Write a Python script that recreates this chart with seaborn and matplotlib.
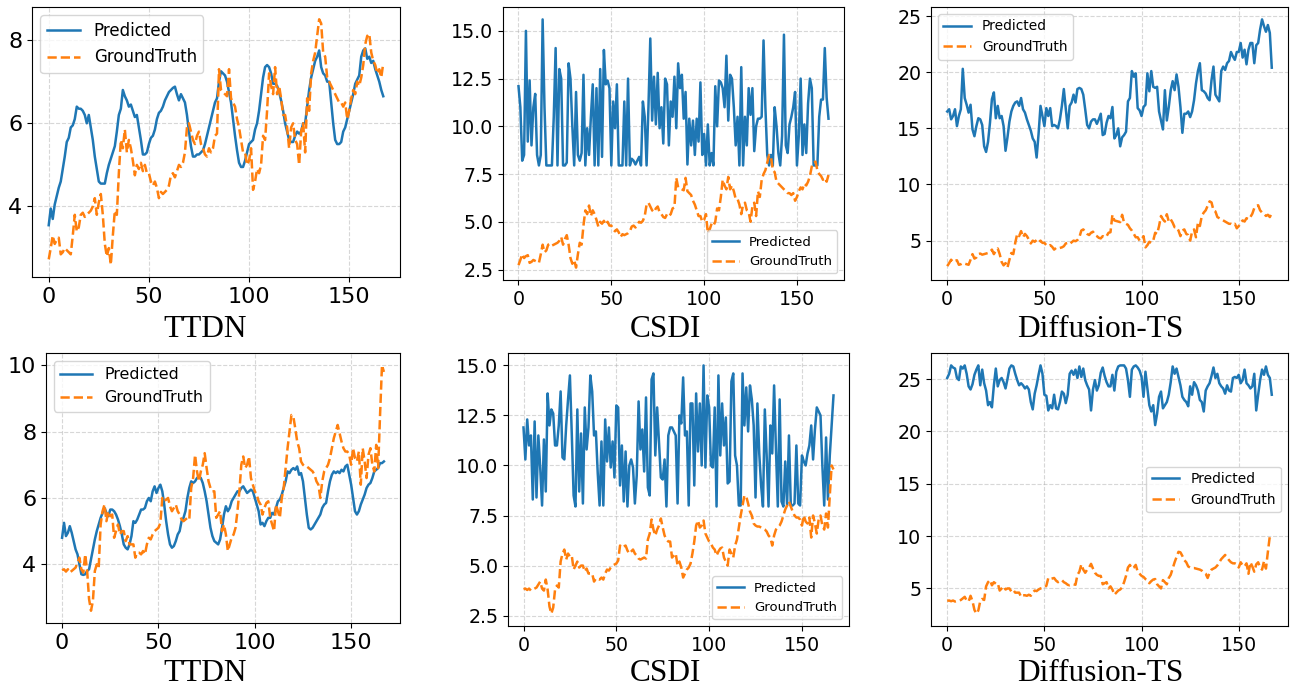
import numpy as np
import matplotlib
matplotlib.use("Agg")
import matplotlib.pyplot as plt
from matplotlib.ticker import MultipleLocator
import seaborn as sns

# ---------------- data ----------------
x_ticks = [0, 50, 100, 150]
model_names = ["TTDN", "CSDI", "Diffusion-TS"]

gt_top = [
    2.73, 3.0, 3.3, 3.1, 3.2, 3.25, 2.85, 2.9, 3.0, 2.95,
    2.9, 2.85, 3.3, 3.8, 3.4, 3.5, 3.8, 3.85, 3.75, 3.8,
    3.85, 3.9, 4.0, 4.2, 3.8, 4.1, 4.3, 3.8, 3.1, 2.8,
    3.0, 2.6, 3.3, 3.9, 3.8, 4.8, 5.6, 5.4, 5.85, 5.3,
    5.6, 5.4, 5.1, 4.75, 5.0, 4.9, 5.05, 4.85, 5.0, 4.8,
    4.8, 4.6, 4.5, 4.6, 4.45, 4.2, 4.35, 4.3, 4.35, 4.4,
    4.5, 4.75, 4.8, 4.7, 4.85, 5.0, 4.95, 5.05, 5.3, 5.9,
    6.0, 5.8, 5.6, 5.5, 5.7, 5.8, 5.5, 5.4, 5.25, 5.2,
    5.4, 5.3, 5.4, 5.7, 5.75, 7.3, 6.8, 6.75, 6.7, 6.65,
    7.3, 6.6, 6.5, 6.4, 6.1, 5.9, 5.6, 5.3, 5.3, 5.0,
    5.1, 5.4, 4.4, 4.6, 4.9, 4.8, 5.0, 5.7, 5.6, 6.3,
    7.2, 6.9, 6.7, 7.35, 6.7, 6.9, 6.6, 6.2, 6.2, 5.9,
    5.4, 5.9, 6.0, 5.6, 5.5, 5.0, 5.8, 6.0, 5.3, 6.6,
    6.3, 7.2, 7.5, 7.7, 8.1, 8.5, 8.4, 7.7, 7.6, 7.1,
    7.0, 6.9, 6.8, 6.7, 6.6, 6.5, 6.5, 6.4, 6.5, 6.1,
    6.3, 6.6, 6.8, 6.7, 7.0, 6.9, 7.1, 7.4, 7.9, 8.1,
    8.15, 7.7, 7.5, 7.4, 7.2, 7.3, 7.1, 7.45,
]

gt_bottom = [
    3.82, 3.85, 3.78, 3.85, 3.75, 3.8, 3.85, 3.9, 4.05, 4.2,
    3.85, 3.75, 4.3, 3.8, 2.95, 2.6, 2.9, 3.8, 4.0, 3.9,
    5.2, 5.6, 5.8, 5.3, 5.6, 5.45, 5.5, 4.8, 5.0, 5.2,
    4.9, 5.0, 5.0, 4.7, 4.85, 4.6, 4.6, 4.6, 4.2, 4.35,
    4.35, 4.3, 4.4, 4.3, 4.6, 4.8, 4.75, 4.9, 5.0, 5.05,
    5.1, 5.25, 6.0, 5.9, 5.95, 6.0, 5.75, 5.6, 5.7, 5.8,
    5.6, 5.5, 5.35, 5.3, 5.35, 5.4, 5.35, 6.3, 6.6, 7.3,
    6.8, 6.5, 6.8, 7.0, 7.35, 6.9, 6.5, 6.3, 6.2, 6.2,
    5.4, 5.5, 5.6, 5.0, 5.2, 4.9, 4.4, 4.6, 4.8, 4.9,
    5.1, 5.6, 6.2, 7.0, 7.25, 6.9, 7.0, 7.25, 6.6, 6.4,
    6.2, 6.1, 5.9, 5.8, 5.5, 5.7, 5.85, 5.9, 5.4, 5.2,
    5.0, 5.8, 5.6, 5.4, 6.0, 6.3, 6.9, 7.5, 8.0, 8.5,
    8.45, 8.1, 7.7, 7.5, 7.1, 7.0, 6.95, 6.95, 6.9, 6.85,
    6.8, 6.7, 6.5, 6.4, 6.0, 6.5, 6.8, 6.9, 7.0, 7.2,
    7.5, 7.8, 8.0, 8.2, 7.95, 7.7, 7.5, 7.4, 7.4, 7.3,
    7.0, 7.5, 7.2, 7.1, 7.4, 6.4, 7.5, 7.1, 6.6, 7.3,
    7.5, 7.0, 6.8, 7.6, 6.9, 8.5, 10.0, 9.8,
]

ttdn_pred_top = [
    3.55, 3.95, 3.7, 4.05, 4.25, 4.45, 4.6, 4.9, 5.2, 5.55,
    5.65, 5.9, 5.95, 6.1, 6.4, 6.35, 6.35, 6.3, 6.2, 6.0,
    6.2, 5.9, 5.6, 5.2, 4.9, 4.6, 4.55, 4.55, 4.55, 4.8,
    5.0, 5.15, 5.3, 5.45, 5.8, 6.2, 6.35, 6.8, 6.65, 6.55,
    6.4, 6.45, 6.3, 6.15, 6.2, 5.9, 5.6, 5.25, 5.25, 5.3,
    5.5, 5.65, 5.7, 5.85, 6.1, 6.25, 6.3, 6.4, 6.55, 6.65,
    6.75, 6.8, 6.85, 6.88, 6.7, 6.55, 6.7, 6.6, 6.5, 6.2,
    5.8, 5.45, 5.2, 5.2, 5.25, 5.25, 5.3, 5.35, 5.5, 5.7,
    5.9, 6.1, 6.3, 6.5, 6.6, 7.0, 7.25, 7.2, 7.15, 7.0,
    6.75, 6.5, 6.1, 5.7, 5.35, 5.05, 4.95, 4.95, 5.1, 5.3,
    5.5, 5.55, 5.6, 5.85, 6.0, 6.3, 6.7, 7.1, 7.35, 7.4,
    7.35, 7.2, 6.95, 6.95, 6.9, 6.75, 6.55, 6.3, 6.0, 5.8,
    5.6, 5.55, 5.55, 5.7, 5.8, 5.75, 5.8, 6.0, 6.0, 6.4,
    6.8, 7.1, 7.3, 7.5, 7.6, 7.75, 7.35, 7.2, 7.15, 7.0,
    7.0, 6.5, 6.0, 5.6, 5.5, 5.5, 5.55, 5.8, 5.9, 6.1,
    6.3, 6.5, 6.7, 6.95, 7.05, 7.15, 7.6, 7.75, 7.8, 7.55,
    7.6, 7.45, 7.5, 7.3, 7.15, 7.0, 6.8, 6.65,
]

csdi_pred_top = [
    12.1, 11.0, 8.2, 8.5, 15.0, 9.2, 12.4, 9.0, 11.0, 11.7,
    8.5, 7.95, 8.5, 15.6, 11.0, 7.95, 7.95, 7.95, 7.95, 10.5,
    14.1, 7.95, 13.0, 12.5, 7.95, 7.95, 8.1, 13.3, 12.5, 10.0,
    7.95, 11.8, 8.5, 8.2, 8.6, 12.7, 7.95, 9.9, 8.5, 10.5,
    12.2, 7.95, 12.0, 7.95, 13.0, 8.4, 14.0, 12.2, 12.4, 12.0,
    7.95, 11.3, 9.9, 12.2, 7.95, 7.95, 7.95, 11.3, 7.95, 12.5,
    7.95, 8.3, 8.2, 8.0, 8.2, 8.4, 7.95, 11.3, 10.5, 7.95,
    11.0, 14.6, 10.3, 12.6, 10.1, 12.8, 9.9, 11.0, 9.1, 12.5,
    12.2, 9.0, 11.3, 10.5, 12.6, 9.9, 13.3, 12.0, 12.7, 10.4,
    11.8, 8.0, 10.4, 9.0, 10.3, 8.5, 10.4, 9.2, 12.3, 8.5,
    9.6, 7.95, 10.1, 7.95, 8.6, 7.95, 12.1, 10.0, 12.4, 12.3,
    12.0, 11.0, 13.7, 10.3, 12.7, 12.5, 11.0, 9.0, 10.5, 7.95,
    13.1, 7.95, 10.5, 9.0, 12.0, 10.6, 12.0, 8.7, 10.0, 10.4,
    10.4, 10.5, 14.5, 11.0, 8.5, 7.95, 8.5, 7.95, 11.0, 10.0,
    8.6, 7.95, 9.5, 14.8, 9.0, 8.6, 10.1, 10.5, 11.0, 11.8,
    7.95, 9.5, 12.5, 8.5, 10.1, 8.6, 11.2, 12.5, 12.0, 7.95,
    7.95, 7.95, 10.5, 11.4, 11.4, 14.1, 11.5, 10.4,
]

diffts_pred_top = [
    16.5, 16.7, 15.8, 16.1, 16.7, 15.2, 16.1, 16.7, 20.3, 17.7,
    17.1, 16.4, 17.1, 14.9, 14.3, 15.2, 15.9, 15.8, 15.3, 13.4,
    12.9, 13.8, 15.5, 17.6, 18.2, 15.9, 17.0, 15.9, 16.1, 15.2,
    13.0, 14.2, 15.6, 16.5, 17.0, 17.3, 17.4, 17.0, 17.7, 16.7,
    16.4, 15.8, 15.3, 14.8, 14.1, 13.8, 12.4, 14.5, 17.0, 16.1,
    15.2, 16.8, 16.1, 16.8, 15.2, 15.3, 15.2, 15.0, 15.8, 17.0,
    18.5, 16.7, 15.0, 17.0, 17.3, 18.0, 17.3, 18.5, 18.6, 18.5,
    18.0, 16.7, 15.3, 15.0, 15.6, 15.8, 15.8, 15.4, 15.8, 16.3,
    14.4, 14.5, 15.5, 16.1, 15.9, 16.9, 14.1, 14.4, 15.0, 13.4,
    14.2, 14.4, 14.7, 17.4, 17.7, 20.1, 19.6, 19.9, 16.8, 16.6,
    16.1, 16.9, 17.1, 19.9, 18.3, 20.1, 18.7, 18.6, 18.7, 16.5,
    15.7, 14.9, 18.4, 15.7, 16.9, 18.4, 19.2, 18.4, 19.8, 18.7,
    16.9, 14.6, 16.3, 16.3, 16.5, 16.0, 16.5, 17.5, 19.0, 20.1,
    20.8, 18.4, 18.3, 18.1, 17.7, 17.5, 19.3, 20.5, 18.0, 17.7,
    17.4, 20.1, 20.5, 20.2, 20.8, 21.0, 21.8, 21.4, 21.1, 21.8,
    21.8, 22.6, 21.3, 22.0, 20.7, 22.0, 22.6, 22.6, 20.8, 22.4,
    22.6, 23.8, 24.7, 24.1, 23.6, 24.2, 23.5, 20.4,
]

ttdn_pred_bottom = [
    4.8, 5.25, 4.85, 4.95, 5.15, 4.95, 4.7, 4.45, 4.3, 4.0,
    3.7, 3.68, 3.7, 3.8, 3.85, 4.15, 4.45, 4.75, 5.0, 5.2,
    5.4, 5.55, 5.7, 5.55, 5.45, 5.65, 5.65, 5.6, 5.5, 5.35,
    5.15, 4.9, 4.6, 4.5, 4.45, 4.6, 4.85, 5.3, 5.25, 5.35,
    5.5, 5.65, 5.65, 5.7, 5.9, 6.0, 5.9, 6.2, 6.35, 6.15,
    6.3, 6.4, 6.2, 5.8, 5.3, 4.9, 4.6, 4.5, 4.55, 4.7,
    4.9, 5.0, 5.3, 5.4, 5.6, 6.0, 6.3, 6.5, 6.45, 6.5,
    6.6, 6.65, 6.6, 6.45, 6.2, 5.9, 5.5, 5.1, 4.85, 4.7,
    4.65, 4.6, 4.75, 5.1, 5.5, 5.75, 5.6, 5.7, 5.9, 6.0,
    6.1, 6.2, 6.2, 6.3, 6.35, 6.25, 6.15, 6.2, 6.25, 6.2,
    6.0, 5.8, 5.6, 5.2, 5.25, 5.15, 5.3, 5.4, 5.4, 5.55,
    5.5, 5.7, 5.9, 5.95, 6.1, 6.3, 6.5, 6.8, 6.75, 6.85,
    6.9, 6.85, 6.95, 6.7, 6.75, 6.5, 6.0, 5.5, 5.1, 5.05,
    5.1, 5.2, 5.3, 5.4, 5.5, 5.7, 5.8, 5.85, 6.2, 6.5,
    6.7, 6.8, 6.75, 6.8, 6.75, 6.85, 6.8, 6.95, 7.0, 6.7,
    6.4, 6.0, 5.6, 5.5, 5.6, 5.8, 5.95, 6.1, 6.3, 6.4,
    6.45, 6.6, 6.8, 6.85, 6.9, 7.05, 7.05, 7.1,
]

csdi_pred_bottom = [
    11.9, 10.3, 12.3, 11.0, 11.5, 8.3, 12.2, 8.4, 11.5, 9.9,
    8.0, 11.3, 8.7, 13.6, 12.0, 12.8, 12.6, 11.0, 11.0, 12.0,
    13.7, 10.4, 10.3, 12.0, 13.3, 14.5, 11.6, 8.5, 7.95, 12.8,
    8.7, 11.6, 8.1, 12.9, 10.8, 11.9, 14.5, 13.7, 11.5, 11.7,
    9.6, 8.0, 11.2, 8.0, 12.3, 10.2, 11.9, 9.9, 11.2, 9.4,
    13.0, 12.9, 9.0, 11.0, 8.2, 10.7, 7.95, 10.0, 10.3, 9.9,
    8.1, 9.5, 13.2, 10.8, 11.8, 9.7, 13.4, 8.9, 8.5, 14.3,
    14.6, 10.5, 12.9, 11.2, 9.4, 9.3, 10.3, 7.95, 11.5, 11.9,
    11.9, 11.7, 11.5, 8.1, 12.5, 12.1, 14.4, 11.5, 11.7, 8.0,
    13.1, 13.1, 9.0, 13.6, 10.7, 13.1, 10.0, 15.0, 9.9, 13.5,
    12.9, 10.0, 9.9, 12.9, 7.95, 14.5, 10.5, 13.1, 11.0, 12.4,
    9.1, 9.2, 14.2, 14.6, 10.5, 10.0, 8.0, 8.0, 14.6, 12.0,
    13.9, 11.7, 14.0, 13.3, 12.0, 8.4, 13.1, 10.6, 9.0, 7.95,
    12.8, 10.5, 7.95, 12.0, 10.6, 14.0, 10.8, 7.95, 13.3, 8.2,
    7.95, 10.2, 8.0, 11.5, 8.0, 8.0, 8.1, 11.0, 8.1, 8.0,
    10.5, 10.2, 10.0, 10.6, 11.0, 12.0, 10.3, 11.8, 12.9, 12.7,
    12.5, 10.0, 8.0, 11.4, 8.3, 10.5, 12.0, 13.5,
]

diffts_pred_bottom = [
    25.1, 25.5, 26.3, 26.1, 26.0, 25.1, 24.9, 26.2, 26.0, 26.3,
    25.5, 24.3, 24.0, 24.5, 25.4, 25.9, 26.3, 24.4, 25.9, 24.6,
    23.9, 22.5, 22.8, 22.3, 24.4, 26.0, 24.3, 24.9, 25.1, 24.7,
    24.1, 25.0, 26.0, 26.3, 26.2, 25.5, 24.9, 24.4, 24.6, 24.4,
    24.1, 24.3, 24.0, 22.8, 22.1, 23.6, 24.4, 25.4, 26.3, 25.5,
    23.5, 23.4, 22.0, 22.5, 22.2, 23.5, 22.2, 22.1, 22.8, 23.8,
    23.6, 22.7, 23.5, 25.5, 25.8, 25.4, 25.9, 25.1, 26.2, 25.2,
    26.0, 24.9, 24.4, 24.0, 22.0, 24.0, 24.9, 23.9, 24.4, 25.6,
    26.1, 25.3, 24.7, 24.3, 24.3, 25.4, 23.9, 25.7, 26.2, 26.3,
    26.3, 26.3, 26.0, 24.9, 23.3, 25.9, 26.2, 26.3, 26.1, 25.8,
    25.2, 23.3, 25.7, 24.1, 22.5, 21.9, 22.5, 20.6, 21.7, 23.3,
    23.8, 22.2, 22.5, 22.8, 23.5, 24.7, 26.2, 25.5, 26.0, 25.2,
    24.4, 23.3, 23.0, 22.8, 22.4, 24.3, 23.5, 24.7, 24.4, 23.9,
    23.0, 22.8, 21.9, 23.9, 24.3, 24.6, 25.3, 26.1, 25.1, 25.5,
    24.6, 24.3, 24.1, 23.6, 24.4, 23.9, 23.8, 25.1, 25.2, 25.1,
    25.4, 24.6, 24.9, 25.9, 24.6, 24.4, 24.1, 24.3, 25.5, 22.0,
    23.5, 24.9, 25.9, 25.4, 26.2, 25.4, 25.1, 23.5,
]

# ---------------- layout / style ----------------
W, H = 1294, 691
fig = plt.figure(figsize=(W / 100, H / 100), dpi=100)

BLUE = "#1f77b4"
ORANGE = "#ff7f0e"


def px_rect(left, top, right, bottom):
    return [left / W, 1 - bottom / H, (right - left) / W, (bottom - top) / H]


panels = [
    # name, pred, gt, (l,t,r,b), tick fs, legend fs, legend loc, y step, label x, label baseline
    (model_names[0], ttdn_pred_top, gt_top, (32, 7, 400, 277), 16, 12.0, "upper left", 2, 205, 337),
    (model_names[1], csdi_pred_top, gt_top, (503, 7, 844, 280), 13.7, 9.5, "lower right", 2.5, 665, 337),
    (model_names[2], diffts_pred_top, gt_top, (931, 7, 1288, 280), 13.7, 9.9, "upper left", 5, 1100, 337),
    (model_names[0], ttdn_pred_bottom, gt_bottom, (46, 353, 400, 623), 16, 11.4, "upper left", 2, 205, 681),
    (model_names[1], csdi_pred_bottom, gt_bottom, (508, 353, 849, 626), 13.7, 9.5, "lower right", 2.5, 665, 681),
    (model_names[2], diffts_pred_bottom, gt_bottom, (931, 353, 1288, 626), 13.7, 9.9, "center right", 5, 1100, 681),
]

for name, pred, gt, rect, tfs, lfs, lloc, ystep, lx, ly in panels:
    ax = fig.add_axes(px_rect(*rect))
    sns.lineplot(x=np.arange(len(pred)), y=np.asarray(pred), ax=ax, color=BLUE,
                 linewidth=1.8, label="Predicted")
    sns.lineplot(x=np.arange(len(gt)), y=np.asarray(gt), ax=ax, color=ORANGE,
                 linewidth=1.8, linestyle="--", label="GroundTruth")
    ax.set_xticks(x_ticks)
    ax.yaxis.set_major_locator(MultipleLocator(ystep))
    ax.grid(True, linestyle="--", linewidth=0.8, alpha=0.5)
    ax.tick_params(labelsize=tfs)
    ax.set_xlabel("")
    ax.set_ylabel("")
    ax.legend(loc=lloc, fontsize=lfs)
    fig.text(lx / W, 1 - ly / H, name, ha="center", va="baseline",
             fontsize=22.5, family=["Liberation Serif", "DejaVu Serif"])

fig.savefig("out.png", dpi=100)
